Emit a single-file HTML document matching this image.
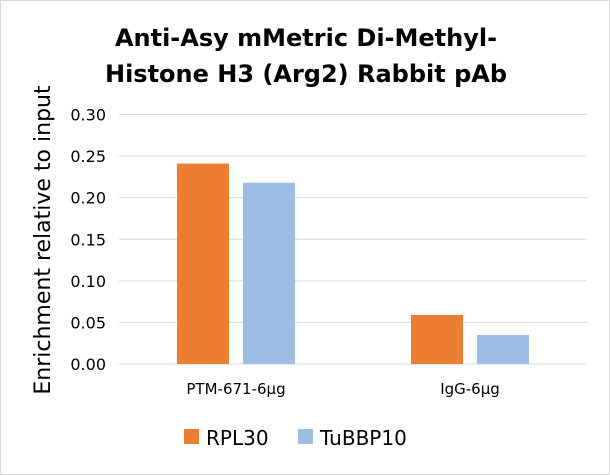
<!DOCTYPE html>
<html><head><meta charset="utf-8"><style>
body{margin:0;background:#fff}
svg{display:block;font-family:"DejaVu Sans","Liberation Sans",sans-serif}
</style></head><body>
<svg width="610" height="475" viewBox="0 0 610 475">
<rect x="0.5" y="0.5" width="609" height="474" fill="#fff" stroke="#d9d9d9"/>
<text x="306" y="46" text-anchor="middle" font-size="24" font-weight="bold" fill="#000">Anti-Asy mMetric Di-Methyl-</text>
<text x="306" y="82" text-anchor="middle" font-size="24" font-weight="bold" fill="#000">Histone H3 (Arg2) Rabbit pAb</text>
<text transform="translate(50,240) rotate(-90)" text-anchor="middle" font-size="22" fill="#000">Enrichment relative to input</text>
<g id="grid"></g><g id="bars"></g><g id="labels"></g>
<g>
<rect x="184" y="429" width="15" height="15" fill="#ed7d31"/>
<text x="206" y="445" font-size="20">RPL30</text>
<rect x="298" y="429" width="15" height="15" fill="#9dbde4"/>
<text x="320" y="445" font-size="20">TuBBP10</text>
</g>
</svg>
<script>
const categories=["PTM-671-6\u00b5g","IgG-6\u00b5g"];
const rpl30=[0.241,0.059];
const tubbp10=[0.218,0.035];
const ticks=[0,0.05,0.10,0.15,0.20,0.25,0.30];
const NS="http://www.w3.org/2000/svg";
const x0=119,x1=587,y0=364,yTop=114.5,ymax=0.30;
const y=v=>y0-(v/ymax)*(y0-yTop);
const cw=(x1-x0)/categories.length;
const cx=i=>x0+cw*(i+0.5);
function mk(t,a,p){const e=document.createElementNS(NS,t);for(const k in a)e.setAttribute(k,a[k]);p.appendChild(e);return e;}
const g=document.getElementById('grid'),b=document.getElementById('bars'),l=document.getElementById('labels');
ticks.forEach(t=>{
 const ln=mk('line',{x1:x0,x2:x1,y1:y(t),y2:y(t),stroke:'#d9d9d9','stroke-width':1},g);
 
 
 const tx=mk('text',{x:106,y:y(t)+6,'text-anchor':'end','font-size':16},g);
 tx.textContent=t.toFixed(2);
 
 
});
categories.forEach((c,i)=>{
 const r1=mk('rect',{x:cx(i)-59,y:y(rpl30[i]),width:52,height:y0-y(rpl30[i]),fill:'#ed7d31'},b);
 
 
 const r2=mk('rect',{x:cx(i)+7,y:y(tubbp10[i]),width:52,height:y0-y(tubbp10[i]),fill:'#9dbde4'},b);
 
 
 const t=mk('text',{x:cx(i),y:394,'text-anchor':'middle','font-size':15},l);
 t.textContent=c;
 
 
});
</script>
</body></html>
